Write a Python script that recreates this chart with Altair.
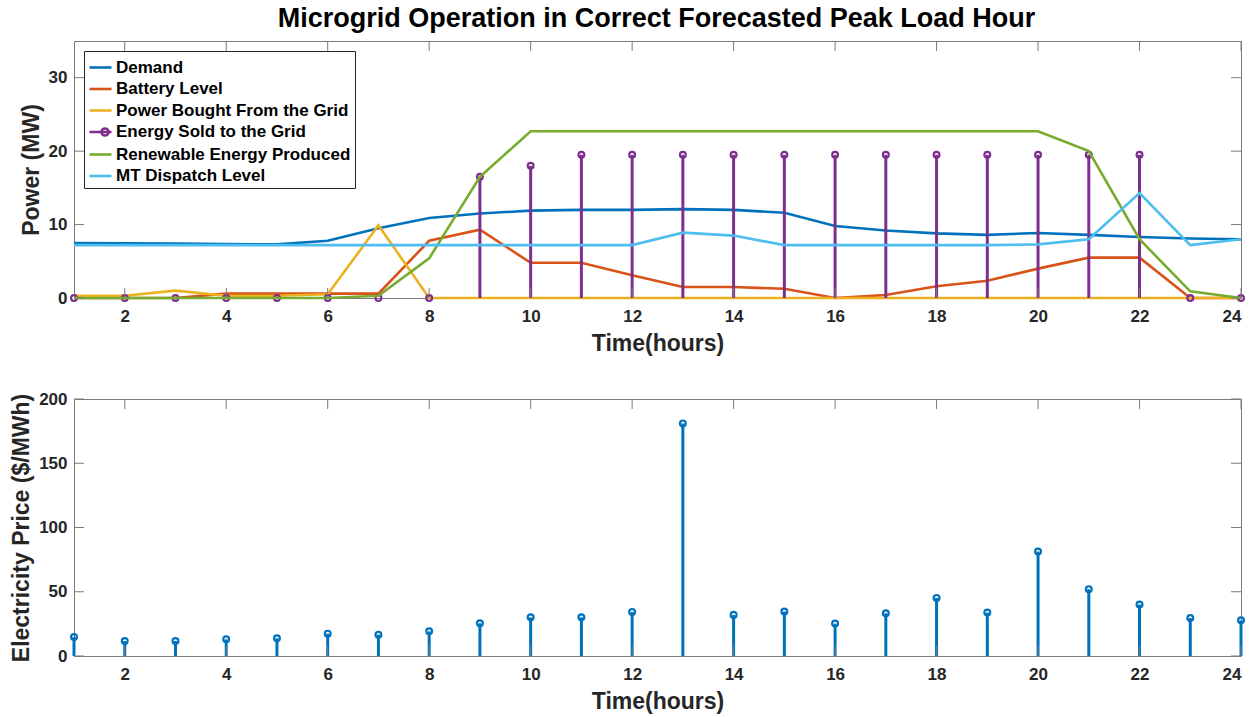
import altair as alt
import pandas as pd

# ---------------- data ----------------
hours = list(range(1, 25))
demand = [7.5, 7.45, 7.4, 7.35, 7.3, 7.8, 9.5, 10.9, 11.5, 11.9, 12.0, 12.0,
          12.1, 12.0, 11.6, 9.8, 9.2, 8.8, 8.6, 8.85, 8.6, 8.3, 8.1, 8.0]
battery = [0, 0, 0, 0.6, 0.6, 0.6, 0.6, 7.8, 9.3, 4.8, 4.8, 3.1,
           1.5, 1.5, 1.25, 0, 0.4, 1.6, 2.35, 4.0, 5.5, 5.5, 0, 0]
bought = [0.3, 0.3, 1.0, 0.3, 0.3, 0.5, 9.9, 0, 0, 0, 0, 0,
          0, 0, 0, 0, 0, 0, 0, 0, 0, 0, 0, 0]
sold = [0, 0, 0, 0, 0, 0, 0, 0, 16.5, 18.0, 19.5, 19.5,
        19.5, 19.5, 19.5, 19.5, 19.5, 19.5, 19.5, 19.5, 19.5, 19.5, 0, 0]
renewable = [0, 0, 0, 0, 0, 0, 0.3, 5.4, 16.5, 22.7, 22.7, 22.7,
             22.7, 22.7, 22.7, 22.7, 22.7, 22.7, 22.7, 22.7, 20.0, 8.0, 0.9, 0]
mt = [7.2, 7.2, 7.2, 7.2, 7.2, 7.2, 7.2, 7.2, 7.2, 7.2, 7.2, 7.2,
      8.9, 8.5, 7.2, 7.2, 7.2, 7.2, 7.2, 7.3, 8.0, 14.3, 7.2, 8.0]
price = [14.8, 11.7, 11.7, 13.0, 13.8, 17.4, 16.6, 19.2, 25.5, 30.1, 30.1, 34.3,
         181.0, 32.0, 34.6, 25.2, 33.3, 45.2, 33.8, 81.3, 52.0, 40.0, 29.6, 27.8]

series_names = ["Demand", "Battery Level", "Power Bought From the Grid",
                "Energy Sold to the Grid", "Renewable Energy Produced", "MT Dispatch Level"]
series_colors = ["#0072BD", "#D95319", "#EDB120", "#7E2F8E", "#77AC30", "#4DBEEE"]
x_ticks = list(range(2, 25, 2))
power_ticks = [0, 10, 20, 30]
price_ticks = [0, 50, 100, 150, 200]

title_text = "Microgrid Operation in Correct Forecasted Peak Load Hour"

# ---------------- styling ----------------
W, H = 1167, 257
FONT = "Liberation Sans"
BOX = "#7a7a7a"
TXT = "#262626"
TICK = 10

values = dict(zip(series_names, [demand, battery, bought, sold, renewable, mt]))
rows = []
for name in series_names:
    for h, v in zip(hours, values[name]):
        rows.append({"hour": h, "value": v, "series": name})
df = pd.DataFrame(rows)
price_df = pd.DataFrame({"hour": hours, "price": price})
xt_df = pd.DataFrame({"t": x_ticks})
pt_df = pd.DataFrame({"t": power_ticks})
prt_df = pd.DataFrame({"t": price_ticks})

xscale = alt.Scale(domain=[1, 24], nice=False, zero=False)
xaxis = alt.Axis(values=x_ticks, title="Time(hours)", format="d")
pscale = alt.Scale(domain=[0, 35], nice=False)
paxis = alt.Axis(values=power_ticks, title="Power (MW)", format="d")
prscale = alt.Scale(domain=[0, 200], nice=False)
praxis = alt.Axis(values=price_ticks, title="Electricity Price ($/MWh)", format="d")

X = lambda f: alt.X(f, type="quantitative", scale=xscale, axis=xaxis)
YP = lambda f: alt.Y(f, type="quantitative", scale=pscale, axis=paxis)
YPR = lambda f: alt.Y(f, type="quantitative", scale=prscale, axis=praxis)

line_path = "M-1,0H1"
stem_path = "M-1,0H1M0.73,0A0.32,0.32,0,1,1,0.09,0A0.32,0.32,0,1,1,0.73,0"
shape_range = [stem_path if n == "Energy Sold to the Grid" else line_path for n in series_names]

legend = alt.Legend(
    title=None, orient="top-left", offset=10, labelFont=FONT, labelFontSize=17,
    labelFontWeight="bold", labelColor="black", symbolStrokeWidth=2.6, symbolSize=484,
    symbolOpacity=1, strokeColor=TXT, fillColor="white", padding=4, rowPadding=0.5,
    labelOffset=3, labelLimit=500,
)


def box_ticks(xdf, ydf, yenc):
    top = alt.Chart(xdf).mark_rule(color=BOX, strokeWidth=1).encode(
        x=X("t"), y=alt.value(0), y2=alt.value(TICK))
    bot = alt.Chart(xdf).mark_rule(color=BOX, strokeWidth=1).encode(
        x=X("t"), y=alt.value(H), y2=alt.value(H - TICK))
    left = alt.Chart(ydf).mark_rule(color=BOX, strokeWidth=1).encode(
        y=yenc("t"), x=alt.value(0), x2=alt.value(TICK))
    right = alt.Chart(ydf).mark_rule(color=BOX, strokeWidth=1).encode(
        y=yenc("t"), x=alt.value(W), x2=alt.value(W - TICK))
    return [top, bot, left, right]


layers = []
for name, col in zip(series_names, series_colors):
    sub = df[df.series == name]
    if name == "Energy Sold to the Grid":
        layers.append(alt.Chart(sub).mark_rule(color=col, strokeWidth=3).encode(
            x=X("hour"), y=YP("value"), y2=alt.datum(0)))
        layers.append(alt.Chart(sub).mark_point(color=col, filled=False, size=34, strokeWidth=2.2,
                                                opacity=1).encode(x=X("hour"), y=YP("value")))
    else:
        layers.append(alt.Chart(sub).mark_line(color=col, strokeWidth=2.6).encode(
            x=X("hour"), y=YP("value")))

legend_layer = alt.Chart(df).mark_point(filled=False, opacity=0).encode(
    x=X("hour"), y=YP("value"),
    color=alt.Color("series:N", scale=alt.Scale(domain=series_names, range=series_colors), legend=legend),
    shape=alt.Shape("series:N", scale=alt.Scale(domain=series_names, range=shape_range), legend=legend),
)

top = alt.layer(*layers, *box_ticks(xt_df, pt_df, YP), legend_layer).properties(width=W, height=H)

stems = alt.Chart(price_df).mark_rule(color="#0072BD", strokeWidth=3).encode(
    x=X("hour"), y=YPR("price"), y2=alt.datum(0))
rings = alt.Chart(price_df).mark_point(color="#0072BD", filled=False, size=34, strokeWidth=2.2,
                                       opacity=1).encode(x=X("hour"), y=YPR("price"))
bottom = alt.layer(stems, rings, *box_ticks(xt_df, prt_df, YPR)).properties(width=W, height=H)

chart = alt.vconcat(top, bottom, spacing=33).properties(
    title=alt.TitleParams(title_text, font=FONT, fontSize=27, fontWeight="bold", color="black",
                          anchor="middle", offset=7, dx=27),
    padding={"left": 10, "top": 5, "right": 8, "bottom": 5},
).configure_view(stroke=BOX, strokeWidth=1).configure_axis(
    domain=False, ticks=False, grid=False, labelFont=FONT, labelFontSize=17, labelFontWeight="bold",
    labelColor=TXT, titleFont=FONT, titleFontSize=23, titleFontWeight="bold", titleColor=TXT,
).configure_axisX(labelPadding=10, titlePadding=8).configure_axisY(labelPadding=7, titlePadding=5)

chart.save("out.html", embed_options={"renderer": "svg", "actions": False})
